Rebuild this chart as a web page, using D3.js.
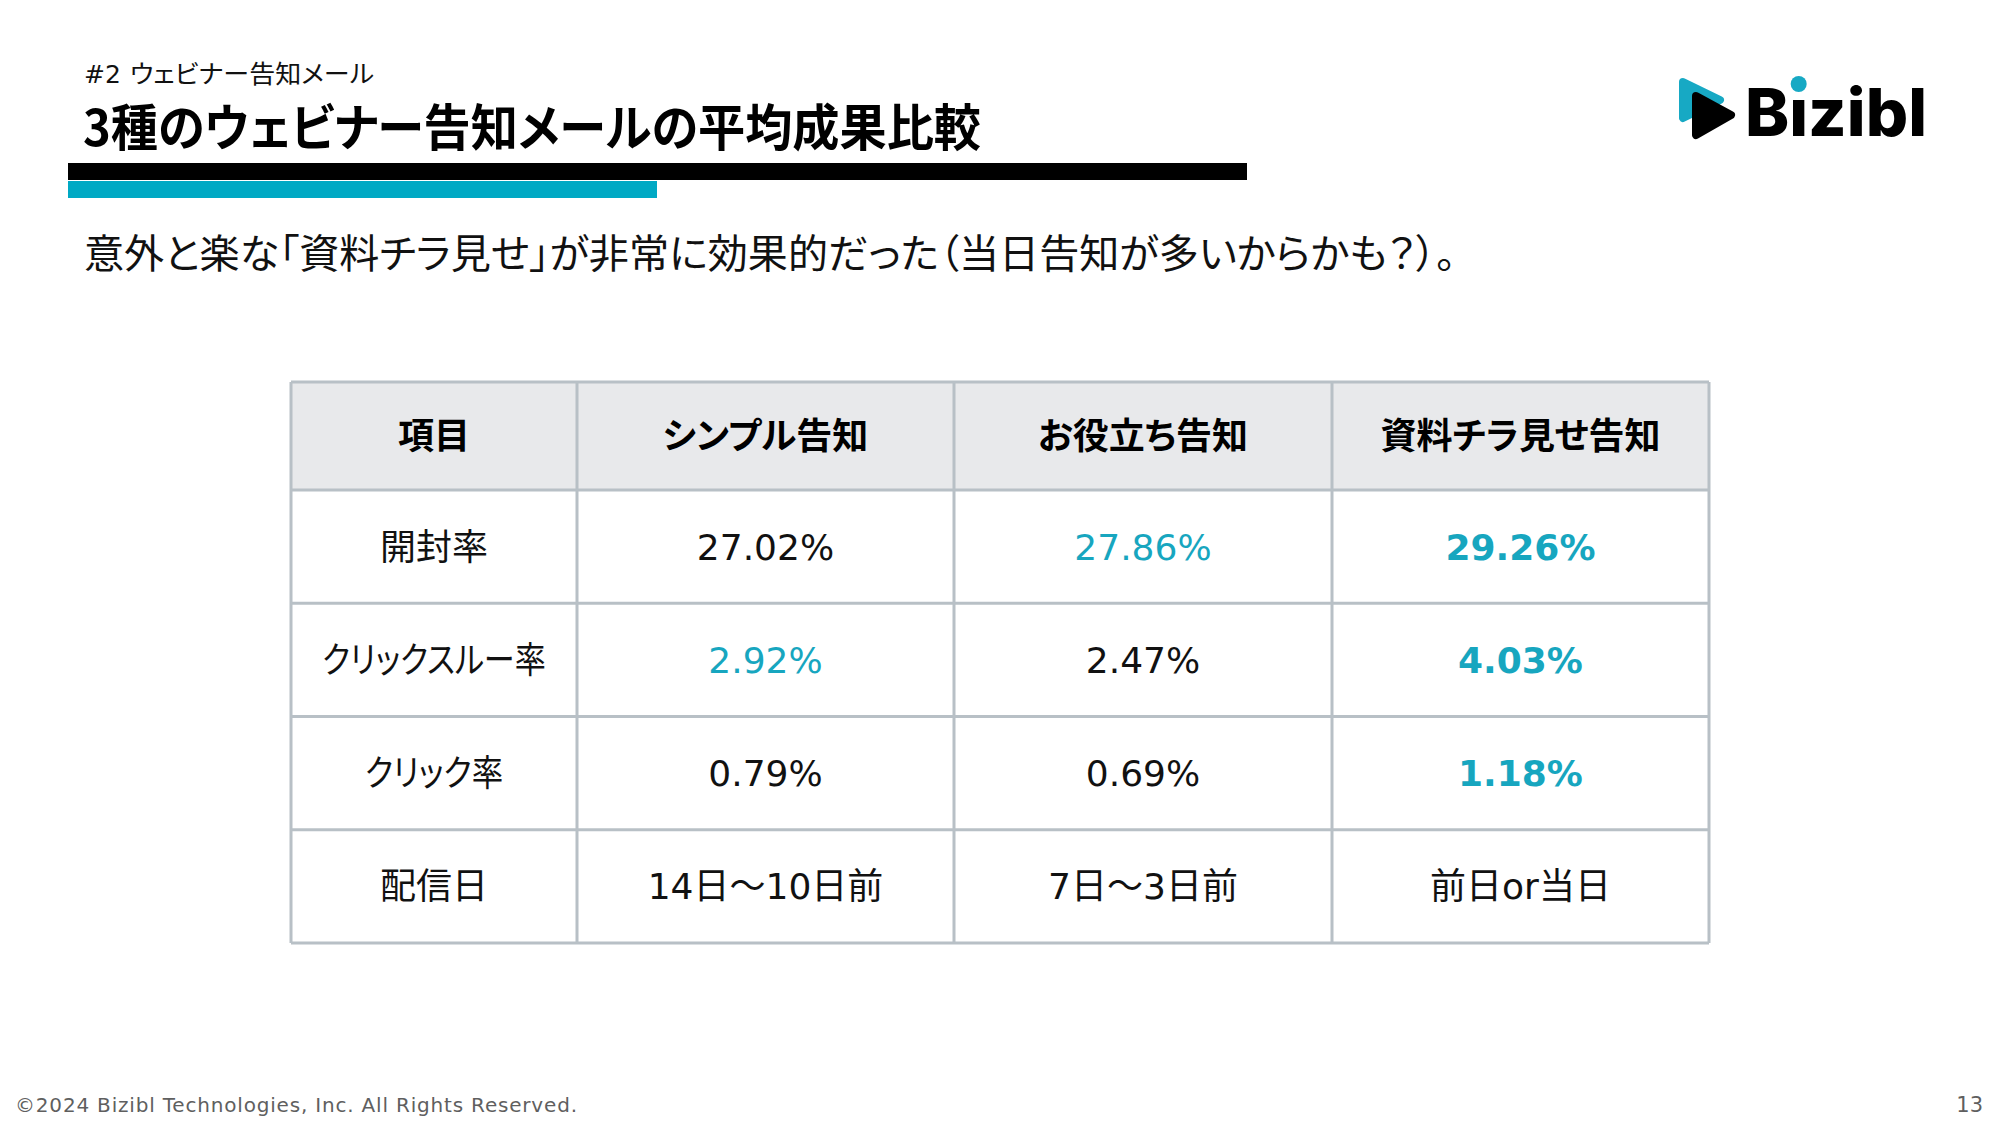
<!DOCTYPE html>
<html lang="ja">
<head>
<meta charset="utf-8">
<script src="https://cdn.jsdelivr.net/npm/d3@7"></script>
<style>
  html, body { margin: 0; padding: 0; background: #fff; }
  svg { display: block; }
  .jp { font-family: "Noto Sans CJK JP", sans-serif; font-feature-settings: "palt"; }
  .num { font-family: "DejaVu Sans", "Noto Sans CJK JP", sans-serif; font-feature-settings: "palt"; }
</style>
</head>
<body>
<svg id="slide" width="2000" height="1125"></svg>
<script>
// ---- data ----
var sectionNo = "#2";
var sectionLabel = "ウェビナー告知メール";
var pageTitle = "3種のウェビナー告知メールの平均成果比較";
var leadText = "意外と楽な「資料チラ見せ」が非常に効果的だった（当日告知が多いからかも？）。";
var columns = ["項目", "シンプル告知", "お役立ち告知", "資料チラ見せ告知"];
var metrics = ["開封率", "クリックスルー率", "クリック率", "配信日"];
var openRate = [27.02, 27.86, 29.26];
var clickThroughRate = [2.92, 2.47, 4.03];
var clickRate = [0.79, 0.69, 1.18];
var sendTiming = ["14日～10日前", "7日～3日前", "前日or当日"];
// 0 = plain, 1 = accent colour, 2 = accent colour + bold
var emphasis = [[0, 1, 2], [1, 0, 2], [0, 0, 2], [0, 0, 0]];
var footerText = "©2024 Bizibl Technologies, Inc. All Rights Reserved.";
var pageNumber = "13";

var accent = "#17a6bf";
var fmtPct = function(v) { return d3.format(".2f")(v) + "%"; };

var rows = [
  openRate.map(fmtPct),
  clickThroughRate.map(fmtPct),
  clickRate.map(fmtPct),
  sendTiming
];

// katakana in the original font is narrower than in Noto, tighten it a bit
function squeezeKana(sel, fs) {
  sel.each(function(d) {
    var n = (String(d).match(/[\u30A0-\u30FF]/g) || []).length;
    if (!n) return;
    var w = this.getComputedTextLength();
    d3.select(this)
      .attr("textLength", w - 0.14 * fs * n)
      .attr("lengthAdjust", "spacingAndGlyphs");
  });
}

var svg = d3.select("#slide");

// ---- header area ----
svg.append("text")
  .attr("x", 84).attr("y", 83)
  .attr("font-family", "'DejaVu Sans', sans-serif")
  .attr("font-size", 25)
  .attr("fill", "#111")
  .text(sectionNo);

svg.append("text")
  .attr("class", "jp")
  .attr("x", 130).attr("y", 83)
  .attr("font-size", 25)
  .attr("textLength", 244)
  .attr("lengthAdjust", "spacingAndGlyphs")
  .attr("fill", "#111")
  .text(sectionLabel);

svg.append("text")
  .attr("class", "jp")
  .attr("x", 83).attr("y", 146)
  .attr("font-size", 50)
  .attr("font-weight", 700)
  .attr("textLength", 898)
  .attr("lengthAdjust", "spacingAndGlyphs")
  .attr("fill", "#000")
  .text(pageTitle);

svg.append("rect").attr("x", 68).attr("y", 163).attr("width", 1179).attr("height", 17).attr("fill", "#000");
svg.append("rect").attr("x", 68).attr("y", 181).attr("width", 589).attr("height", 17).attr("fill", "#00a9c4");

svg.append("text")
  .attr("class", "jp")
  .attr("x", 84).attr("y", 268)
  .attr("font-size", 40)
  .attr("textLength", 1372)
  .attr("lengthAdjust", "spacingAndGlyphs")
  .attr("fill", "#111")
  .text(leadText);

// ---- logo ----
var logo = svg.append("g").attr("class", "logo");
logo.append("path")
  .attr("d", "M1683,82 L1720,100 L1683,118 Z")
  .attr("fill", "#17a9c4").attr("stroke", "#17a9c4")
  .attr("stroke-width", 8).attr("stroke-linejoin", "round");
logo.append("path")
  .attr("d", "M1696,96 L1731,115 L1696,135 Z")
  .attr("fill", "#000").attr("stroke", "#000")
  .attr("stroke-width", 8).attr("stroke-linejoin", "round");
var brand = logo.append("text")
  .attr("x", 1745).attr("y", 136)
  .attr("font-family", "Inter, 'Noto Sans', sans-serif")
  .attr("font-size", 66)
  .attr("font-weight", 800)
  .attr("textLength", 182)
  .attr("lengthAdjust", "spacingAndGlyphs")
  .attr("fill", "#000")
  .text("B\u0131zibl");
var iBox = brand.node().getExtentOfChar(1);
logo.append("circle")
  .attr("cx", iBox.x + iBox.width / 2)
  .attr("cy", 84)
  .attr("r", 8)
  .attr("fill", "#17a9c4");

// ---- table ----
var tableLeft = 291, tableTop = 382, headerH = 108, tableBottom = 943;
var colEdges = [291, 577, 954, 1332, 1709];

var x = d3.scaleOrdinal().domain(columns).range(colEdges.slice(0, 4));
var colW = function(i) { return colEdges[i + 1] - colEdges[i]; };
var y = d3.scaleBand()
  .domain(metrics)
  .range([tableTop + headerH, tableBottom])
  .padding(0);

var table = svg.append("g").attr("class", "table");

// header background
table.append("rect")
  .attr("x", tableLeft).attr("y", tableTop)
  .attr("width", colEdges[4] - tableLeft).attr("height", headerH)
  .attr("fill", "#e8e9eb");

table.selectAll(".head")
  .data(columns)
  .enter()
  .append("text")
  .attr("class", "jp head")
  .attr("x", function(d, i) { return x(d) + colW(i) / 2; })
  .attr("y", tableTop + headerH / 2)
  .attr("dy", "0.36em")
  .attr("text-anchor", "middle")
  .attr("font-size", 36)
  .attr("font-weight", 700)
  .attr("fill", "#000")
  .text(function(d) { return d; });

// body rows
var rowG = table.selectAll(".row")
  .data(metrics)
  .enter()
  .append("g")
  .attr("class", "row")
  .attr("transform", function(d) { return "translate(0," + (y(d) + y.bandwidth() / 2) + ")"; });

rowG.append("text")
  .attr("class", "jp")
  .attr("x", x(columns[0]) + colW(0) / 2)
  .attr("dy", "0.36em")
  .attr("text-anchor", "middle")
  .attr("font-size", 36)
  .attr("fill", "#111")
  .text(function(d) { return d; })
  .call(squeezeKana, 36);

rowG.each(function(m, r) {
  d3.select(this).selectAll(".val")
    .data(rows[r])
    .enter()
    .append("text")
    .attr("class", "num val")
    .attr("x", function(d, i) { return x(columns[i + 1]) + colW(i + 1) / 2; })
    .attr("dy", "0.36em")
    .attr("text-anchor", "middle")
    .attr("font-size", 36)
    .attr("font-weight", function(d, i) { return emphasis[r][i] === 2 ? 700 : 400; })
    .attr("fill", function(d, i) { return emphasis[r][i] > 0 ? accent : "#111"; })
    .text(function(d) { return d; });
});

// grid lines
var lineColor = "#b8c0c6";
var hLines = [tableTop, tableTop + headerH].concat(metrics.map(function(m) { return y(m) + y.bandwidth(); }));
table.selectAll(".hline")
  .data(hLines)
  .enter()
  .append("line")
  .attr("x1", tableLeft).attr("x2", colEdges[4])
  .attr("y1", function(d) { return d; }).attr("y2", function(d) { return d; })
  .attr("stroke", lineColor).attr("stroke-width", 3);
table.selectAll(".vline")
  .data(colEdges)
  .enter()
  .append("line")
  .attr("x1", function(d) { return d; }).attr("x2", function(d) { return d; })
  .attr("y1", tableTop).attr("y2", tableBottom)
  .attr("stroke", lineColor).attr("stroke-width", 3);

// ---- footer ----
svg.append("text")
  .attr("x", 15).attr("y", 1112)
  .attr("font-family", "'DejaVu Sans', sans-serif")
  .attr("font-size", 20)
  .attr("textLength", 562)
  .attr("lengthAdjust", "spacing")
  .attr("fill", "#5f5f5f")
  .text(footerText);

svg.append("text")
  .attr("x", 1983).attr("y", 1112)
  .attr("text-anchor", "end")
  .attr("font-family", "'DejaVu Sans', sans-serif")
  .attr("font-size", 21)
  .attr("fill", "#5f5f5f")
  .text(pageNumber);
</script>
</body>
</html>
